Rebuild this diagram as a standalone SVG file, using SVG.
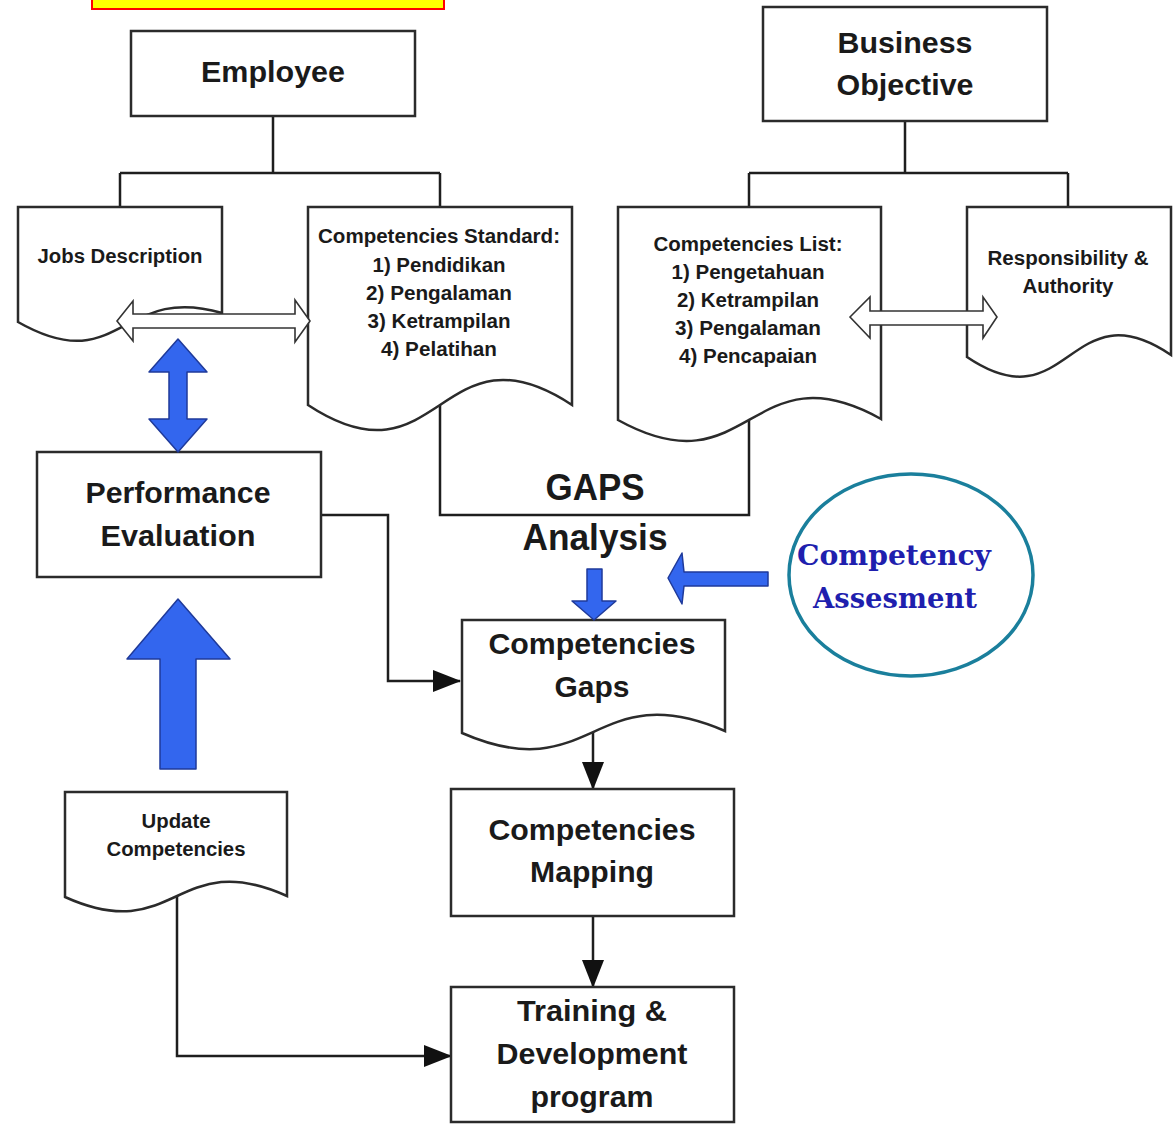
<svg xmlns="http://www.w3.org/2000/svg" width="1174" height="1124" viewBox="0 0 1174 1124">
<defs>
<style>
.bg{fill:#ffffff}
.box{fill:#ffffff;stroke:#2b2b2b;stroke-width:2.5}
.line{fill:none;stroke:#1e1e1e;stroke-width:2.5}
.blue{fill:#3366ee;stroke:#1f3a9a;stroke-width:1.5;stroke-linejoin:round}
.hollow{fill:#ffffff;stroke:#333333;stroke-width:1.6}
.t{font-family:"Liberation Sans",Arial,sans-serif;font-weight:bold;fill:#1a1a1a;text-anchor:middle}
.big{font-size:30px}
.gaps{font-size:36px}
.mid{font-size:20px}
.ser{font-family:"DejaVu Serif","Liberation Serif",serif;font-weight:bold;font-size:28px;fill:#1f1fae;text-anchor:middle}
</style>
<marker id="ah" markerUnits="userSpaceOnUse" markerWidth="28" markerHeight="22" refX="27" refY="11" orient="auto">
<path d="M0,0 L28,11 L0,22 Z" fill="#111111"/>
</marker>
</defs>
<rect class="bg" x="0" y="0" width="1174" height="1124"/>
<rect x="92" y="-6" width="352" height="15" fill="#ffff00" stroke="#ff0000" stroke-width="2"/>

<g id="connectors">
<path class="line" d="M273,116 V173 M120,173 H440 M120,173 V207 M440,173 V207"/>
<path class="line" d="M905,121 V173 M749,173 H1068 M749,173 V207 M1068,173 V207"/>
<path class="line" d="M440,400 V515 H749 V415"/>
<path class="line" marker-end="url(#ah)" d="M321,515 H388 V681 H460"/>
<path class="line" marker-end="url(#ah)" d="M593,730 V789"/>
<path class="line" marker-end="url(#ah)" d="M593,916 V987"/>
<path class="line" marker-end="url(#ah)" d="M177,895 V1056 H451"/>
</g>

<g id="employee">
<rect class="box" x="131" y="31" width="284" height="85"/>
<text class="t big" x="273" y="82" textLength="144" lengthAdjust="spacingAndGlyphs">Employee</text>
</g>

<g id="business-objective">
<rect class="box" x="763" y="7" width="284" height="114"/>
<text class="t big" x="905" y="53" textLength="135" lengthAdjust="spacingAndGlyphs">Business</text>
<text class="t big" x="905" y="95" textLength="137" lengthAdjust="spacingAndGlyphs">Objective</text>
</g>

<g id="jobs-description">
<path class="box" d="M18,207 H222 V313 C120,283 120,380 18,322 Z"/>
<text class="t mid" x="120" y="263" textLength="165" lengthAdjust="spacingAndGlyphs">Jobs Description</text>
</g>

<g id="competencies-standard">
<path class="box" d="M308,207 H572 V405 C440,318 440,492 308,405 Z"/>
<text class="t mid" x="439" y="243" textLength="242" lengthAdjust="spacingAndGlyphs">Competencies Standard:</text>
<text class="t mid" x="439" y="272" textLength="133" lengthAdjust="spacingAndGlyphs">1) Pendidikan</text>
<text class="t mid" x="439" y="300" textLength="146" lengthAdjust="spacingAndGlyphs">2) Pengalaman</text>
<text class="t mid" x="439" y="328" textLength="143" lengthAdjust="spacingAndGlyphs">3) Ketrampilan</text>
<text class="t mid" x="439" y="356" textLength="116" lengthAdjust="spacingAndGlyphs">4) Pelatihan</text>
</g>

<g id="competencies-list">
<path class="box" d="M618,207 H881 V419 C750,346 750,493 618,420 Z"/>
<text class="t mid" x="748" y="251" textLength="189" lengthAdjust="spacingAndGlyphs">Competencies List:</text>
<text class="t mid" x="748" y="279" textLength="153" lengthAdjust="spacingAndGlyphs">1) Pengetahuan</text>
<text class="t mid" x="748" y="307" textLength="142" lengthAdjust="spacingAndGlyphs">2) Ketrampilan</text>
<text class="t mid" x="748" y="335" textLength="146" lengthAdjust="spacingAndGlyphs">3) Pengalaman</text>
<text class="t mid" x="748" y="363" textLength="138" lengthAdjust="spacingAndGlyphs">4) Pencapaian</text>
</g>

<g id="responsibility-authority">
<path class="box" d="M967,207 H1171 V355 C1069,286 1069,426 967,357 Z"/>
<text class="t mid" x="1068" y="265" textLength="161" lengthAdjust="spacingAndGlyphs">Responsibility &amp;</text>
<text class="t mid" x="1068" y="293" textLength="91" lengthAdjust="spacingAndGlyphs">Authority</text>
</g>

<g id="performance-evaluation">
<rect class="box" x="37" y="452" width="284" height="125"/>
<text class="t big" x="178" y="503" textLength="185" lengthAdjust="spacingAndGlyphs">Performance</text>
<text class="t big" x="178" y="546" textLength="155" lengthAdjust="spacingAndGlyphs">Evaluation</text>
</g>

<g id="gaps-analysis">
<text class="t gaps" x="595" y="500" textLength="99" lengthAdjust="spacingAndGlyphs">GAPS</text>
<text class="t gaps" x="595" y="550" textLength="145" lengthAdjust="spacingAndGlyphs">Analysis</text>
</g>

<g id="competency-assesment">
<ellipse cx="911" cy="575" rx="122" ry="101" fill="#ffffff" stroke="#1a7f9c" stroke-width="3.5"/>
<text class="ser" x="894" y="565" textLength="194" lengthAdjust="spacingAndGlyphs">Competency</text>
<text class="ser" x="895" y="608" textLength="164" lengthAdjust="spacingAndGlyphs">Assesment</text>
</g>

<g id="competencies-gaps">
<path class="box" d="M462,620 H725 V731 C593,674 593,790 462,733 Z"/>
<text class="t big" x="592" y="654" textLength="207" lengthAdjust="spacingAndGlyphs">Competencies</text>
<text class="t big" x="592" y="697" textLength="75" lengthAdjust="spacingAndGlyphs">Gaps</text>
</g>

<g id="update-competencies">
<path class="box" d="M65,792 H287 V896 C176,846 176,947 65,897 Z"/>
<text class="t mid" x="176" y="828" textLength="69" lengthAdjust="spacingAndGlyphs">Update</text>
<text class="t mid" x="176" y="856" textLength="139" lengthAdjust="spacingAndGlyphs">Competencies</text>
</g>

<g id="competencies-mapping">
<rect class="box" x="451" y="789" width="283" height="127"/>
<text class="t big" x="592" y="840" textLength="207" lengthAdjust="spacingAndGlyphs">Competencies</text>
<text class="t big" x="592" y="882" textLength="124" lengthAdjust="spacingAndGlyphs">Mapping</text>
</g>

<g id="training-development">
<rect class="box" x="451" y="987" width="283" height="135"/>
<text class="t big" x="592" y="1021" textLength="150" lengthAdjust="spacingAndGlyphs">Training &amp;</text>
<text class="t big" x="592" y="1064" textLength="191" lengthAdjust="spacingAndGlyphs">Development</text>
<text class="t big" x="592" y="1107" textLength="123" lengthAdjust="spacingAndGlyphs">program</text>
</g>

<g id="block-arrows">
<path class="hollow" d="M117,321 L133,301 L133,314 L295,314 L295,300 L310,321 L295,342 L295,328 L133,328 L133,341 Z"/>
<path class="hollow" d="M850,317 L870,297 L870,311 L983,311 L983,297 L997,317 L983,338 L983,325 L870,325 L870,338 Z"/>
<path class="blue" d="M178,339 L207,372 L187,372 L187,419 L207,419 L178,452 L149,419 L169,419 L169,372 L149,372 Z"/>
<path class="blue" d="M178,599 L230,659 L196,659 L196,769 L160,769 L160,659 L127,659 Z"/>
<path class="blue" d="M587,569 H602 V601 H616 L594,620 L572,601 H587 Z"/>
<path class="blue" d="M668,578 L682,553 L684,572 H768 V586 H684 L682,604 Z"/>
</g>
</svg>
